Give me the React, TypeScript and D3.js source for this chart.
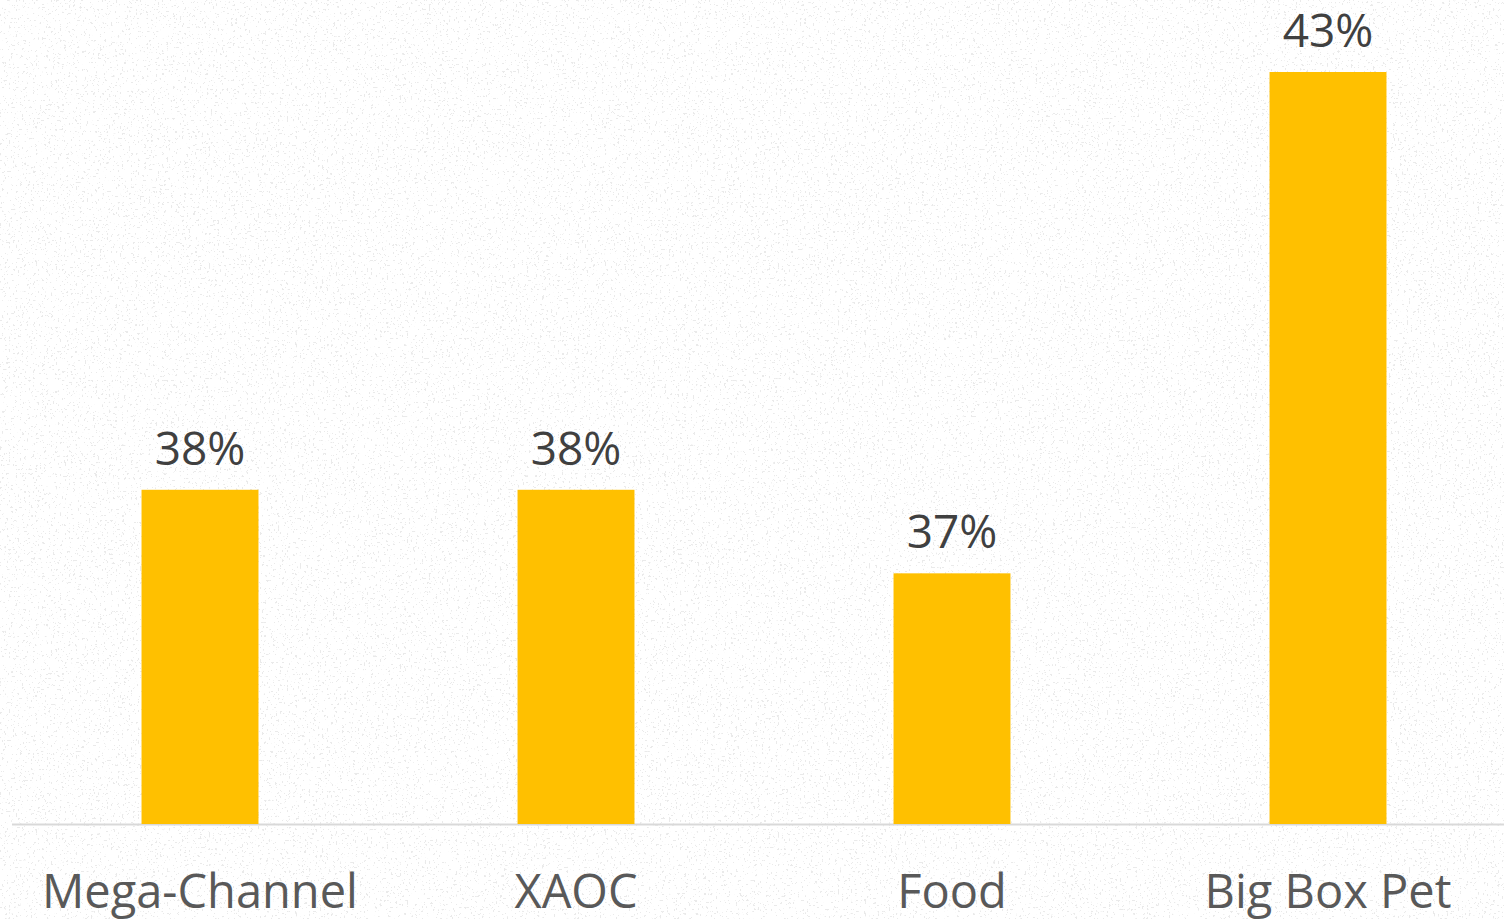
import * as React from 'react';
import { useEffect, useRef } from 'react';
import { select, scaleBand, scaleLinear } from 'd3';

const categories = ['Mega-Channel', 'XAOC', 'Food', 'Big Box Pet'];
const values = [38, 38, 37, 43];
const valueLabels = ['38%', '38%', '37%', '43%'];

const WIDTH = 1504;
const HEIGHT = 919;

export default function App() {
    const ref = useRef<SVGSVGElement>(null);

    useEffect(() => {
        const svg = select(ref.current);
        svg.selectAll('*').remove();

        const baseline = 824;
        const x = scaleBand<string>()
            .domain(categories)
            .range([12, 1516])
            .paddingInner(0.689)
            .paddingOuter(0.3445);
        const y = scaleLinear().domain([34, 43]).range([baseline, 72]);

        // sparse paper speckles
        const defs = svg.append('defs');
        const f = defs.append('filter').attr('id', 'speck').attr('x', 0).attr('y', 0).attr('width', '100%').attr('height', '100%');
        f.append('feTurbulence').attr('type', 'fractalNoise').attr('baseFrequency', 0.45).attr('numOctaves', 2).attr('seed', 7).attr('result', 'n');
        f.append('feColorMatrix').attr('in', 'n').attr('type', 'matrix')
            .attr('values', '0 0 0 0 0.5  0 0 0 0 0.5  0 0 0 0 0.5  0 0 0 -30 10');

        svg.append('rect').attr('width', WIDTH).attr('height', HEIGHT).attr('fill', '#ffffff');
        svg.append('rect').attr('width', WIDTH).attr('height', HEIGHT).attr('filter', 'url(#speck)').attr('opacity', 0.3);

        svg.append('line')
            .attr('x1', 12).attr('x2', WIDTH)
            .attr('y1', baseline + 0.5).attr('y2', baseline + 0.5)
            .attr('stroke', '#d9d9d9').attr('stroke-width', 2);

        const g = svg.append('g');
        g.selectAll('rect.bar')
            .data(values)
            .join('rect')
            .attr('class', 'bar')
            .attr('x', (_d, i) => x(categories[i]) as number)
            .attr('width', x.bandwidth())
            .attr('y', (d) => y(d))
            .attr('height', (d) => baseline - y(d))
            .attr('fill', '#FFC000');

        g.selectAll('text.val')
            .data(values)
            .join('text')
            .attr('class', 'val')
            .attr('x', (_d, i) => (x(categories[i]) as number) + x.bandwidth() / 2)
            .attr('y', (d) => y(d) - 25)
            .attr('text-anchor', 'middle')
            .attr('font-family', 'Open Sans, sans-serif')
            .attr('font-size', 46)
            .attr('fill', '#404040')
            .text((_d, i) => valueLabels[i]);

        g.selectAll('text.cat')
            .data(categories)
            .join('text')
            .attr('class', 'cat')
            .attr('x', (d) => (x(d) as number) + x.bandwidth() / 2)
            .attr('y', 908)
            .attr('text-anchor', 'middle')
            .attr('font-family', 'Open Sans, sans-serif')
            .attr('font-size', 47)
            .attr('fill', '#595959')
            .text((d) => d);
    }, []);

    return (
        <svg
            ref={ref}
            width={WIDTH}
            height={HEIGHT}
            style={{ position: 'absolute', left: 0, top: 0, display: 'block' }}
        />
    );
}
